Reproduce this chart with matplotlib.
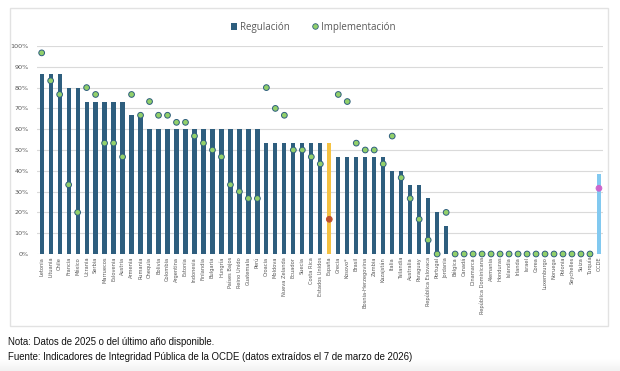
import matplotlib

matplotlib.use("Agg")
import matplotlib.pyplot as plt
import numpy as np
from matplotlib.lines import Line2D
from matplotlib.patches import Patch, Rectangle
from matplotlib.ticker import PercentFormatter

countries = [
    "Letonia", "Lituania", "Chile", "Francia", "México", "Ucrania", "Serbia",
    "Marruecos", "Eslovenia", "Austria", "Armenia", "Rumania", "Chequia",
    "Bolivia", "Colombia", "Argentina", "Estonia", "Indonesia", "Finlandia",
    "Bulgaria", "Hungría", "Países Bajos", "Reino Unido", "Guatemala", "Perú",
    "Croacia", "Moldova", "Nueva Zelanda", "Ecuador", "Suecia", "Costa Rica",
    "Estados Unidos", "España", "Grecia", "Kosovo*", "Brasil",
    "Bosnia-Herzegovina", "Zambia", "Kazajstán", "Italia", "Tailandia",
    "Australia", "Paraguay", "República Eslovaca", "Portugal", "Jordania",
    "Bélgica", "Canadá", "Dinamarca", "República Dominicana", "Alemania",
    "Honduras", "Islandia", "Irlanda", "Israel", "Corea", "Luxemburgo",
    "Noruega", "Polonia", "Seychelles", "Suiza", "Turquía", "OCDE",
]

regulacion = [
    86.7, 86.7, 86.7, 80.0, 80.0, 73.3, 73.3, 73.3, 73.3, 73.3, 66.7, 66.7,
    60.0, 60.0, 60.0, 60.0, 60.0, 60.0, 60.0, 60.0, 60.0, 60.0, 60.0, 60.0,
    60.0, 53.3, 53.3, 53.3, 53.3, 53.3, 53.3, 53.3, 53.3, 46.7, 46.7, 46.7,
    46.7, 46.7, 46.7, 40.0, 40.0, 33.3, 33.3, 26.7, 20.0, 13.3,
    0, 0, 0, 0, 0, 0, 0, 0, 0, 0, 0, 0, 0, 0, 0, 0, 38.4,
]

implementacion = [
    96.7, 83.3, 76.7, 33.3, 20.0, 80.0, 76.7, 53.3, 53.3, 46.7, 76.7, 66.7,
    73.3, 66.7, 66.7, 63.3, 63.3, 56.7, 53.3, 50.0, 46.7, 33.3, 30.0, 26.7,
    26.7, 80.0, 70.0, 66.7, 50.0, 50.0, 46.7, 43.3, 16.7, 76.7, 73.3, 53.3,
    50.0, 50.0, 43.3, 56.7, 36.7, 26.7, 16.7, 6.7, 0.0, 20.0,
    0, 0, 0, 0, 0, 0, 0, 0, 0, 0, 0, 0, 0, 0, 0, 0, 31.6,
]

BAR = "#2E5E7E"
DOT = "#92D06A"
HIGHLIGHT = {"España": ("#F5C242", "#C0502E"), "OCDE": ("#82C9F0", "#CC66CC")}


def main() -> None:
    fig = plt.figure(figsize=(6.2, 3.71), dpi=100)
    # light frame around the chart area
    fig.patches.append(
        Rectangle((10 / 620, 1 - 326 / 371), 598 / 620, 318 / 371,
                  transform=fig.transFigure, facecolor="none",
                  edgecolor="#E2E2E2", linewidth=1.0, zorder=-1)
    )
    # faint grey fade along the bottom edge
    fade = fig.add_axes([0, 0, 1, 12 / 371], zorder=-2)
    fade.imshow(np.linspace(1.0, 0.0, 20).reshape(-1, 1), cmap="Greys", vmin=0, vmax=9,
                aspect="auto", extent=(0, 1, 0, 1), origin="lower")
    fade.axis("off")

    ax = fig.add_axes([37 / 620, 1 - 254 / 371, 566 / 620, 208 / 371])
    ax.set_facecolor("none")

    x = list(range(len(countries)))
    bar_colors = [HIGHLIGHT.get(c, (BAR, DOT))[0] for c in countries]
    dot_colors = [HIGHLIGHT.get(c, (BAR, DOT))[1] for c in countries]
    dot_edges = [BAR if c not in HIGHLIGHT else HIGHLIGHT[c][1] for c in countries]

    ax.bar(x, [v / 100 for v in regulacion], width=0.47, color=bar_colors, zorder=2)
    ax.scatter(x, [v / 100 for v in implementacion], s=17, c=dot_colors,
               edgecolors=dot_edges, linewidths=0.7, zorder=3, clip_on=False)

    ax.set_xlim(-0.52, len(countries) - 0.55)
    ax.set_ylim(0, 1.0)
    ax.yaxis.set_major_formatter(PercentFormatter(1.0, decimals=0))
    ax.set_yticks([i / 10 for i in range(11)])
    ax.set_xticks(x)
    ax.set_xticklabels(countries, rotation=90, fontsize=3.7, color="#595959")
    ax.tick_params(axis="y", labelsize=4.6, labelcolor="#595959", length=0, pad=6)
    ax.tick_params(axis="x", length=0, pad=2)
    ax.grid(axis="y", color="#DADADA", linewidth=0.8, zorder=0)
    ax.set_axisbelow(True)
    for spine in ax.spines.values():
        spine.set_visible(False)

    handles = [
        Patch(facecolor=BAR, label="Regulación"),
        Line2D([], [], marker="o", linestyle="", markersize=4, markerfacecolor=DOT,
               markeredgecolor=BAR, markeredgewidth=0.6, label="Implementación"),
    ]
    fig.legend(handles=handles, loc="center", bbox_to_anchor=(0.505, 0.927), ncol=2,
               frameon=False, handlelength=0.7, handletextpad=0.3,
               columnspacing=2.2, labelcolor="#595959",
               prop={"family": "Open Sans", "size": 7.0})

    fig.text(8 / 620, 1 - 342 / 371, "Nota: Datos de 2025 o del último año disponible.",
             fontsize=6.9, family="Liberation Sans", va="center", color="#111111")
    fig.text(8 / 620, 1 - 357 / 371,
             "Fuente: Indicadores de Integridad Pública de la OCDE (datos extraídos el 7 de marzo de 2026)",
             fontsize=6.9, family="Liberation Sans", va="center", color="#111111")

    fig.savefig("out.png", dpi=100)
    plt.close(fig)


if __name__ == "__main__":
    main()
